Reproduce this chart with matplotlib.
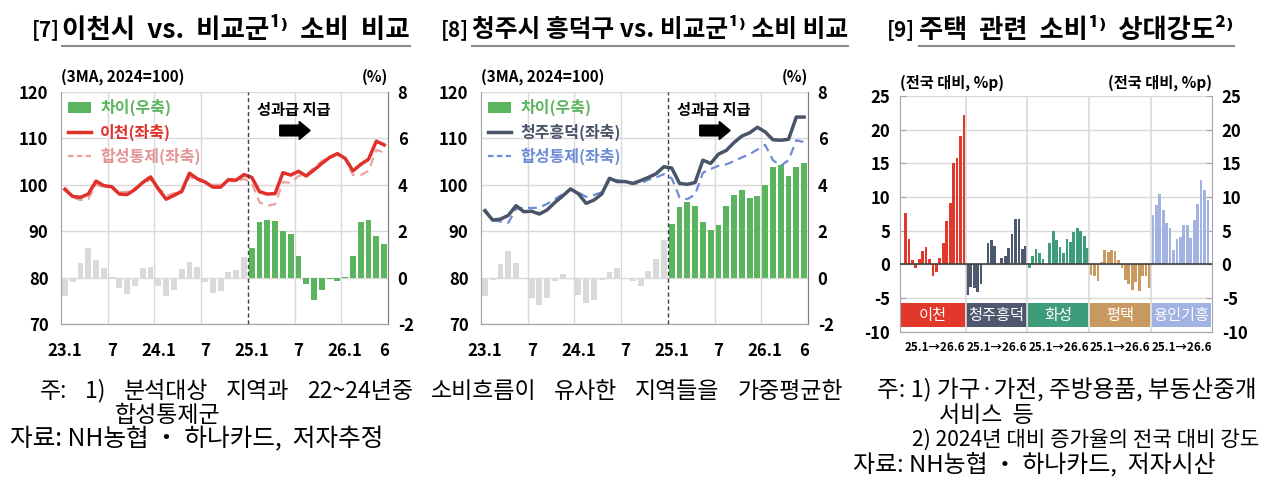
import numpy as np
import matplotlib.pyplot as plt
from matplotlib.patches import Patch, Rectangle, FancyArrow
from matplotlib.lines import Line2D

plt.rcParams['font.family'] = ['Noto Sans CJK KR', 'DejaVu Sans']

# ---- data: [7], [8] monthly 23.1 ~ 26.6 (3MA, 2024=100) ----
x_tick_pos = [0, 6, 12, 18, 24, 30, 36, 41]
x_tick_lab = ['23.1', '7', '24.1', '7', '25.1', '7', '26.1', '6']

icheon = [99.0, 97.5, 97.3, 98.0, 100.8, 99.8, 99.6, 98.0, 97.9, 99.0, 100.5, 101.7,
          99.1, 96.9, 97.7, 98.6, 102.5, 101.3, 100.6, 99.5, 99.5, 101.1, 101.0, 102.2,
          101.6, 98.5, 98.0, 98.1, 102.6, 102.1, 102.9, 101.9, 103.2, 104.6, 105.9, 106.7,
          105.7, 103.0, 104.4, 105.5, 109.4, 108.6]
icheon_ctrl = [99.5, 97.3, 96.7, 96.9, 100.1, 99.4, 99.6, 98.4, 98.5, 99.3, 100.1, 101.2,
               99.4, 97.6, 98.2, 98.2, 101.8, 100.8, 100.7, 100.0, 100.0, 100.8, 100.7, 101.3,
               100.4, 96.2, 95.5, 95.8, 100.6, 100.4, 101.9, 102.2, 103.7, 105.1, 106.0, 106.8,
               105.6, 102.1, 102.1, 103.0, 107.5, 107.0]
icheon_gap = [-0.78, -0.17, 0.65, 1.29, 0.78, 0.43, 0.03, -0.43, -0.71, -0.35, 0.41, 0.47,
              -0.38, -0.8, -0.52, 0.38, 0.67, 0.47, -0.17, -0.67, -0.57, 0.23, 0.33, 0.9,
              1.28, 2.38, 2.5, 2.45, 1.99, 1.86, 0.92, -0.27, -0.95, -0.55, -0.07, -0.14,
              0.04, 0.92, 2.38, 2.5, 1.79, 1.46]

cheongju = [94.4, 92.4, 92.6, 93.4, 95.5, 94.2, 94.3, 93.7, 94.6, 96.2, 97.6, 99.1,
            98.1, 96.0, 96.7, 98.0, 101.4, 100.7, 100.7, 100.3, 100.9, 101.6, 102.4, 103.9,
            103.6, 100.3, 100.1, 100.5, 105.3, 104.6, 106.6, 107.4, 109.1, 110.5, 111.2, 112.4,
            111.4, 109.7, 109.6, 109.8, 114.6, 114.6]
cheongju_ctrl = [94.8, 92.3, 92.1, 91.8, 94.8, 95.1, 95.0, 95.1, 95.9, 96.9, 98.0, 99.1,
                 98.4, 97.4, 97.8, 98.4, 101.0, 101.0, 100.7, 100.3, 100.3, 101.1, 101.6, 102.3,
                 101.4, 97.3, 96.9, 97.9, 102.6, 103.4, 104.1, 104.4, 105.1, 105.9, 106.6, 107.6,
                 108.6, 105.3, 104.1, 105.3, 109.6, 109.2]
cheongju_gap = [-0.78, -0.1, 0.6, 1.16, 0.64, -0.02, -0.86, -1.2, -0.89, -0.14, 0.17, -0.03,
                -0.74, -1.1, -0.96, -0.1, 0.24, 0.4, -0.03, -0.14, -0.36, 0.3, 0.8, 1.64,
                2.33, 3.04, 3.26, 3.07, 2.41, 2.07, 2.27, 3.07, 3.57, 3.79, 3.44, 3.5,
                4.01, 4.76, 4.87, 4.4, 4.76, 4.94]

# ---- data: [9] relative intensity 25.1 -> 26.6 (%p vs national) ----
regions = ['이천', '청주흥덕', '화성', '평택', '용인기흥']
region_colors = ['#E2372B', '#4D586E', '#3F9C7B', '#C99A60', '#A2B3E3']
rel_values = [
    [7.6, 3.8, 0.7, -0.5, 0.8, 2.0, 2.6, 0.8, -1.8, -1.1, 0.9, 3.2, 6.5, 9.1, 15.0, 15.8, 19.1, 22.2],
    [-4.5, -3.4, -3.5, -4.1, -2.9, 0.1, 3.2, 3.6, 2.7, 0.1, 0.9, 1.2, 2.5, 4.5, 6.8, 6.8, 2.3, 2.7],
    [-0.55, 1.3, 2.3, 1.7, 0.8, 0.05, 3.2, 4.9, 3.6, 2.6, 1.7, 3.7, 3.3, 4.8, 5.4, 5.0, 4.2, 2.4],
    [-1.6, -1.8, -2.5, 0.4, 2.2, 1.8, 2.1, 2.0, 0.7, -0.5, -2.3, -2.9, -3.8, -2.6, -4.0, -1.8, -1.8, -3.5],
    [7.3, 8.8, 10.4, 8.0, 6.1, 5.4, 2.2, 3.7, 4.0, 5.8, 5.9, 3.9, 6.6, 9.0, 12.6, 11.1, 9.5],
]

GREEN = '#5BB55F'
GRAY_BAR = '#D9D9D9'
GRID = '#D9D9D9'
SPINE = '#A6A6A6'

W, H = 1280, 480
fig = plt.figure(figsize=(12.8, 4.8), dpi=100)
renderer = fig.canvas.get_renderer()


def px_rect(l, t, r, b):
    return [l / W, 1 - b / H, (r - l) / W, (b - t) / H]


def fit_text(x0, x1, y, txt, fs, **kw):
    # put text at pixel x0 and scale its size so it ends near pixel x1
    t = fig.text(x0 / W, 1 - y / H, txt, ha='left', va='center', fontsize=fs, **kw)
    wd = t.get_window_extent(renderer).width
    t.set_fontsize(fs * min(max((x1 - x0) / wd, 0.85), 1.15))
    return t


def compare_panel(rect, line_vals, ctrl_vals, gap_vals, line_col, ctrl_col, line_lab, ctrl_lab_col):
    ax = fig.add_axes(rect)
    axr = ax.twinx()
    ax.set_zorder(axr.get_zorder() + 1)
    ax.patch.set_visible(False)

    n = len(line_vals)
    xs = np.arange(n)
    bar_cols = [GRAY_BAR if i < 24 else GREEN for i in range(n)]
    axr.bar(xs, gap_vals, width=0.75, color=bar_cols, zorder=2)
    axr.set_ylim(-2, 8)
    axr.set_yticks([-2, 0, 2, 4, 6, 8], ['-2', '0', '2', '4', '6', '8'], fontweight='bold')
    axr.tick_params(axis='y', length=0, pad=7, labelsize=12)
    axr.grid(axis='y', color=GRID, lw=1, zorder=0)
    axr.set_axisbelow(True)
    for xv in [5.5, 11.5, 17.5, 29.5, 35.5]:
        axr.axvline(xv, color=GRID, lw=1, zorder=0)

    ax.plot(xs, ctrl_vals, color=ctrl_col, lw=1.6, ls=(0, (4, 2.5)), zorder=3)
    ax.plot(xs, line_vals, color=line_col, lw=2.5, zorder=4)
    ax.axvline(23.5, color='#404040', lw=1, ls=(0, (3, 2)), zorder=5)

    ax.set_xlim(-0.5, n - 0.5)
    ax.set_ylim(70, 120)
    ax.set_yticks([70, 80, 90, 100, 110, 120], ['70', '80', '90', '100', '110', '120'], fontweight='bold')
    ax.tick_params(axis='y', length=0, pad=9, labelsize=12)
    ax.set_xticks(x_tick_pos, x_tick_lab, fontweight='bold')
    ax.tick_params(axis='x', length=0, pad=13, labelsize=12)

    for a in (ax, axr):
        a.spines['top'].set_visible(False)
        a.spines['left'].set_color(SPINE)
        a.spines['bottom'].set_color(SPINE)
        a.spines['right'].set_color('#808080')

    ax.text(29.4, 116.1, '성과급 지급', ha='center', va='center', fontsize=11, fontweight='bold')
    ax.add_patch(FancyArrow(27.6, 111.7, 3.9, 0, width=2.3, head_width=3.9, head_length=1.4,
                            length_includes_head=True, color='black', zorder=6))

    ax.text(0.0, 1.066, '(3MA, 2024=100)', transform=ax.transAxes, ha='left', va='center',
            fontsize=11, fontweight='bold')
    ax.text(1.0, 1.066, '(%)', transform=ax.transAxes, ha='right', va='center',
            fontsize=11, fontweight='bold')

    handles = [Patch(facecolor=GREEN),
               Line2D([], [], color=line_col, lw=2.5),
               Line2D([], [], color=ctrl_col, lw=1.6, ls=(0, (2.5, 1.5)))]
    labels = ['차이(우축)', line_lab, '합성통제(좌축)']
    leg = ax.legend(handles, labels, loc='upper left', frameon=False, fontsize=11.5,
                    handlelength=1.4, handletextpad=0.6, labelspacing=0.45,
                    borderaxespad=0.25, borderpad=0.2,
                    labelcolor=[GREEN, line_col, ctrl_lab_col])
    for t in leg.get_texts():
        t.set_fontweight('bold')
    return ax


compare_panel(px_rect(61, 92, 388, 324), icheon, icheon_ctrl, icheon_gap,
              '#E0302A', '#E9A3A3', '이천(좌축)', '#E39595')
compare_panel(px_rect(481, 92, 808, 324), cheongju, cheongju_ctrl, cheongju_gap,
              '#4A5468', '#6D8CD5', '청주흥덕(좌축)', '#6D8CD5')

# ---- panel [9] ----
ax3 = fig.add_axes(px_rect(900, 96, 1212, 331.7))
group_len = 18
bounds = [-1.6, 17.5, 35.5, 53.5, 71.5, 89.2]
for g, vals in enumerate(rel_values):
    xs = g * group_len + np.arange(len(vals))
    ax3.bar(xs, vals, width=0.8, color=region_colors[g], zorder=2)
    l, r = bounds[g] + 0.25, bounds[g + 1] - 0.25
    ax3.add_patch(Rectangle((l, -9.3), r - l, 3.5, facecolor=region_colors[g],
                            edgecolor='none', zorder=2))
    ax3.text((l + r) / 2, -7.55, regions[g], ha='center', va='center', color='white',
             fontsize=11, zorder=3)
    ax3.text(g * group_len + 8.5, -0.065, '25.1→26.6', transform=ax3.get_xaxis_transform(),
             ha='center', va='center', fontsize=8.3, fontweight='bold')

for xv in bounds[1:-1]:
    ax3.axvline(xv, color=GRID, lw=1.2, zorder=2.5)
ax3.axhline(0, color='#404040', lw=1.2, zorder=3)
ax3.set_xlim(bounds[0], bounds[-1])
ax3.set_ylim(-10, 25)
ax3.set_yticks(np.arange(-10, 26, 5), [str(v) for v in range(-10, 26, 5)], fontweight='bold')
ax3.tick_params(axis='y', left=True, right=True, labelleft=True, labelright=True,
                direction='in', length=4, color=SPINE, pad=7, labelsize=12)
ax3.set_xticks([])
ax3.grid(axis='y', color=GRID, lw=1, zorder=0)
ax3.set_axisbelow(True)
ax3.spines['top'].set_visible(False)
for s in ('left', 'right', 'bottom'):
    ax3.spines[s].set_color(SPINE)
ax3.text(0.0, 1.055, '(전국 대비, %p)', transform=ax3.transAxes, ha='left', va='center',
         fontsize=11, fontweight='bold')
ax3.text(1.0, 1.055, '(전국 대비, %p)', transform=ax3.transAxes, ha='right', va='center',
         fontsize=11, fontweight='bold')

# ---- titles: bracket number, then underlined text ----
titles = [(32, '[7]', 62, 410, '이천시  vs.  비교군¹⁾  소비  비교'),
          (441, '[8]', 472, 848, '청주시 흥덕구 vs. 비교군¹⁾ 소비 비교'),
          (887, '[9]', 919, 1234, '주택  관련  소비¹⁾  상대강도²⁾')]
for x0, num, x1, x2, txt in titles:
    fig.text(x0 / W, 1 - 30 / H, num, ha='left', va='center', fontsize=15, fontweight='bold')
    t = fit_text(x1, x2, 30, txt, 18, fontweight='bold')
    bb = t.get_window_extent(renderer)
    fig.add_artist(Line2D([bb.x0 / W, bb.x1 / W], [1 - 46 / H] * 2, color='#8C8C8C', lw=1.5))

# ---- notes ----
# first line of the left note: words spread evenly between x=40 and x=843
note_words = ['주:', '1)', '분석대상', '지역과', '22~24년중', '소비흐름이', '유사한', '지역들을', '가중평균한']
NOTE_FS = 16.5
word_txt = [fig.text(0, 1 - 391 / H, w, ha='left', va='center', fontsize=NOTE_FS) for w in note_words]
widths = [t.get_window_extent(renderer).width for t in word_txt]
gap = (843 - 40 - sum(widths)) / (len(widths) - 1)
xpos = 40
for t, wd in zip(word_txt, widths):
    t.set_x(xpos / W)
    xpos += wd + gap

fig.text(115 / W, 1 - 415 / H, '합성통제군', ha='left', va='center', fontsize=NOTE_FS)
fit_text(10, 385, 439, '자료: NH농협 ・ 하나카드,  저자추정', 16)
fit_text(877, 1258, 390, '주: 1) 가구·가전, 주방용품, 부동산중개', 16)
fig.text(939 / W, 1 - 415 / H, '서비스  등', ha='left', va='center', fontsize=NOTE_FS)
fit_text(912, 1258, 440, '2) 2024년 대비 증가율의 전국 대비 강도', 15)
fit_text(853, 1217, 464, '자료: NH농협 ・ 하나카드,  저자시산', 16)

fig.savefig('out.png', dpi=100)
